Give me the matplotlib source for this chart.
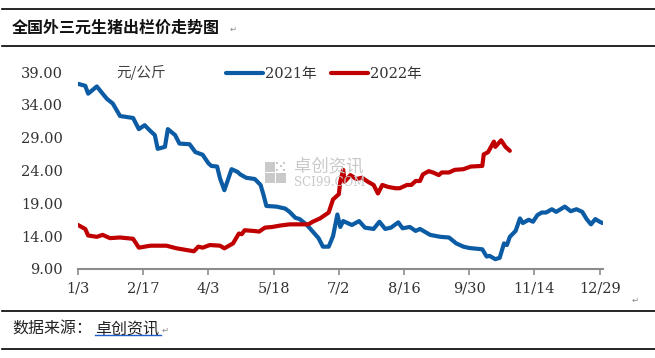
import matplotlib
matplotlib.use("Agg")
import matplotlib.pyplot as plt
from matplotlib.lines import Line2D
from matplotlib.patches import Rectangle
import pandas as pd

# ---------------- data ----------------
title = "全国外三元生猪出栏价走势图"
source_label = "数据来源："
source_name = "卓创资讯"
unit_label = "元/公斤"
series_names = ["2021年", "2022年"]
tick_labels = ["1/3", "2/17", "4/3", "5/18", "7/2", "8/16", "9/30", "11/14", "12/29"]
y_ticks = [9, 14, 19, 24, 29, 34, 39]

# days since 1/3
day_2021 = [0, 5, 7, 13, 17, 20, 24, 29, 38, 42, 46, 50, 53, 55, 60, 62, 67, 70, 77, 81,
            86, 90, 92, 96, 98, 101, 106, 110, 112, 116, 122, 126, 128, 130, 137, 143, 146,
            150, 153, 158, 162, 166, 169, 173, 176, 179, 181, 183, 189, 194, 198, 204, 208,
            212, 216, 221, 224, 229, 233, 236, 243, 250, 256, 261, 266, 270, 279, 282, 284,
            288, 291, 294, 296, 298, 302, 305, 307, 311, 314, 317, 320, 323, 327, 330, 336,
            340, 344, 348, 351, 354, 357, 360, 362]
price_2021 = [37.2, 36.9, 35.7, 36.8, 35.7, 34.9, 34.2, 32.3, 32.0, 30.3, 30.9, 30.0, 29.4,
              27.3, 27.6, 30.3, 29.4, 28.1, 28.0, 26.8, 26.4, 25.1, 24.7, 24.6, 22.8, 21.0,
              24.2, 23.8, 23.4, 22.9, 22.7, 21.8, 20.3, 18.6, 18.5, 18.2, 17.7, 16.8, 16.6,
              15.7, 14.7, 13.7, 12.4, 12.4, 14.0, 17.3, 15.4, 16.3, 15.7, 16.3, 15.3, 15.1,
              16.2, 15.1, 15.3, 16.1, 15.2, 15.4, 14.8, 15.1, 14.2, 13.9, 13.8, 12.9, 12.4,
              12.2, 12.0, 10.9, 11.0, 10.5, 10.7, 12.9, 12.65, 13.9, 14.8, 16.7, 16.0, 16.5,
              16.2, 17.2, 17.6, 17.6, 18.1, 17.7, 18.5, 17.8, 18.1, 17.7, 16.6, 15.8, 16.6,
              16.2, 16.0]

day_2022 = [0, 5, 7, 13, 17, 22, 29, 38, 42, 50, 61, 68, 80, 83, 86, 91, 98, 101, 107, 111,
            113, 115, 121, 125, 129, 134, 139, 146, 153, 159, 162, 167, 173, 176, 180, 181,
            183, 184, 188, 192, 196, 200, 204, 207, 210, 214, 219, 222, 227, 230, 233, 236,
            238, 242, 245, 249, 251, 256, 260, 266, 271, 279, 280, 283, 287, 288, 292, 295,
            298]
price_2022 = [15.7, 15.1, 14.1, 13.9, 14.2, 13.7, 13.8, 13.6, 12.25, 12.55, 12.55, 12.15,
              11.7, 12.4, 12.25, 12.65, 12.55, 12.15, 12.9, 14.4, 14.3, 14.9, 14.8, 14.7,
              15.3, 15.4, 15.6, 15.8, 15.8, 15.8, 16.2, 16.7, 17.6, 19.6, 20.4, 22.3, 24.1,
              22.3, 23.3, 22.7, 22.9, 22.3, 21.8, 20.5, 21.8, 21.5, 21.3, 21.3, 21.8, 21.8,
              22.4, 22.4, 23.4, 23.9, 23.7, 23.3, 23.7, 23.7, 24.1, 24.2, 24.6, 24.7, 26.45,
              26.8, 28.4, 27.6, 28.6, 27.6, 27.0]

blue = "#0B5CA4"
red = "#C00000"
cjk = ["Noto Sans CJK SC", "DejaVu Sans"]
serif = ["DejaVu Serif", "Noto Sans CJK SC"]

# ---------------- figure ----------------
W, H = 655, 358
fig = plt.figure(figsize=(W / 100, H / 100), dpi=100)

def fx(px):
    return px / W

def fy(py):
    return 1 - py / H

# frame lines
for yy in (9, 46, 311, 349):
    fig.add_artist(Line2D([fx(2), 1.0], [fy(yy), fy(yy)], color="black", lw=1.2))

fig.text(fx(12), fy(27.5), title, family=cjk, fontsize=11.5, fontweight="bold",
         va="center", ha="left", color="#111111")
fig.text(fx(230), fy(29), "↵", family=["DejaVu Sans"], fontsize=6, color="#888888",
         va="center", ha="left")

fig.text(fx(12), fy(329), source_label, family=cjk, fontsize=11.5, va="center", ha="left",
         color="#222222")
fig.text(fx(95), fy(329), source_name, family=cjk, fontsize=11.5, va="center", ha="left",
         color="#222222")
fig.add_artist(Line2D([fx(95), fx(161)], [fy(335), fy(335)], color="#1F5FD0", lw=1.0))
fig.text(fx(162), fy(330), "↵", family=["DejaVu Sans"], fontsize=6, color="#888888",
         va="center", ha="left")
fig.text(fx(632), fy(300), "↵", family=["DejaVu Sans"], fontsize=6, color="#888888",
         va="center", ha="left")

# axes
ax = fig.add_axes([fx(78), fy(269), fx(603) - fx(78), fy(72) - fy(269)])
ax.plot(day_2021, price_2021, color=blue, lw=3.0, solid_joinstyle="round",
        solid_capstyle="round", label=series_names[0], zorder=3)
ax.plot(day_2022, price_2022, color=red, lw=3.0, solid_joinstyle="round",
        solid_capstyle="round", label=series_names[1], zorder=3)

start = pd.Timestamp("2021-01-03")
tick_pos = [(pd.Timestamp("2021/" + t) - start).days for t in tick_labels]
ax.set_xticks(tick_pos)
ax.set_xticklabels(tick_labels, family=serif, fontsize=10.5, color="#333333")
ax.set_xlim(0, 362.3)
ax.set_ylim(y_ticks[0], y_ticks[-1])
ax.set_yticks(y_ticks)
ax.set_yticklabels([f"{v:.2f}" for v in y_ticks], family=serif, fontsize=10.5, color="#333333")

for s in ("top", "right", "left"):
    ax.spines[s].set_visible(False)
ax.spines["bottom"].set_color("#8C8C8C")
ax.spines["bottom"].set_linewidth(1.5)
ax.tick_params(axis="x", direction="out", length=4, width=1.2, color="#8C8C8C", pad=5)
ax.tick_params(axis="y", length=0, pad=11)
ax.patch.set_visible(False)

fig.text(fx(141), fy(72), unit_label, family=cjk, fontsize=10.5, color="#404040",
         va="center", ha="center")

leg = fig.legend(loc="center", bbox_to_anchor=(fx(324), fy(74)), ncol=2, frameon=False,
                 handlelength=2.5, handletextpad=0.15, columnspacing=1.0,
                 prop={"family": serif, "size": 10.5})
for t in leg.get_texts():
    t.set_color("#333333")

# watermark
wm = "#C9C9C9"
for (x0, y0, w, h) in [(265, 162, 10, 10), (265, 173, 10, 10), (276, 173, 10, 10)]:
    fig.add_artist(Rectangle((fx(x0), fy(y0 + h)), fx(w), h / H, color=wm, lw=0, zorder=1))
for i in range(3):
    for j in range(3):
        if (i + j) % 2 == 0:
            fig.add_artist(Rectangle((fx(276 + 3.5 * i), fy(162 + 3.5 * j + 2)), fx(2), 2 / H,
                                     color=wm, lw=0, zorder=1))
fig.text(fx(294), fy(175.5), "卓创资讯", family=cjk, fontsize=12.5, color=wm, va="bottom",
         ha="left", zorder=1)
fig.text(fx(294), fy(176), "SCI99.COM", family=["DejaVu Serif"], fontsize=8.5, color=wm,
         va="top", ha="left", zorder=1)

fig.savefig("out.png", dpi=100)
